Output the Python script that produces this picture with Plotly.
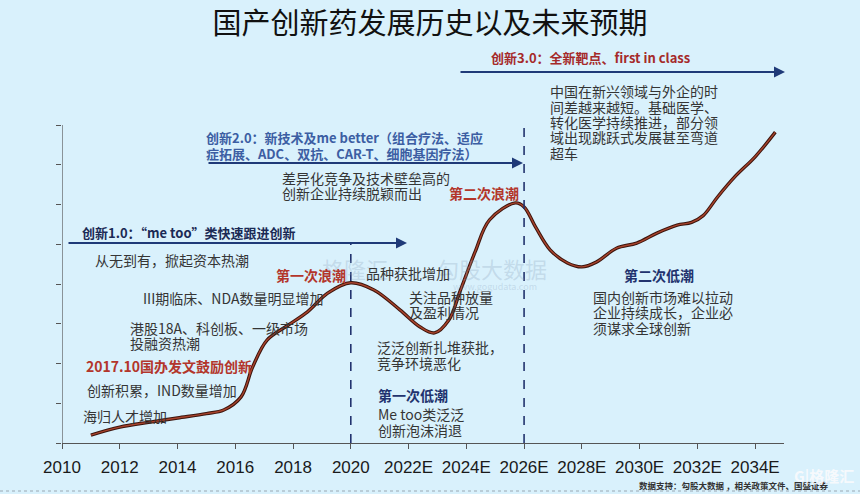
import plotly.graph_objects as go

# ---------------- data ----------------
years = [2011.0, 2012.0, 2013.0, 2014.0, 2015.0, 2015.6, 2016.2, 2016.6, 2017.1, 2017.8,
         2018.5, 2019.2, 2020.0, 2020.8, 2021.7, 2022.4, 2022.9, 2023.4, 2023.8, 2024.3,
         2024.8, 2025.7, 2026.0, 2026.4, 2026.9, 2027.5, 2028.0, 2028.5, 2029.2, 2029.9,
         2030.6, 2031.3, 2031.8, 2032.2, 2032.7, 2033.3, 2034.0, 2034.7]
index_values = [0.20, 0.40, 0.52, 0.63, 0.74, 0.83, 1.16, 1.91, 2.59, 2.95,
                3.30, 3.77, 4.03, 3.85, 3.35, 2.92, 2.77, 3.10, 3.85, 4.80,
                5.61, 6.04, 5.94, 5.43, 4.86, 4.53, 4.43, 4.55, 4.90, 5.03,
                5.28, 5.48, 5.55, 5.72, 6.19, 6.70, 7.20, 7.82]
tick_years = [2010, 2012, 2014, 2016, 2018, 2020, 2022, 2024, 2026, 2028, 2030, 2032, 2034]
tick_labels = ["2010", "2012", "2014", "2016", "2018", "2020", "2022E", "2024E",
               "2026E", "2028E", "2030E", "2032E", "2034E"]
y_ticks = [0, 1, 2, 3, 4, 5, 6, 7, 8]

# ---------------- layout geometry ----------------
W, H = 860, 494
L, R, T, B = 62, 76, 50, 51
X0, X1 = 2010, 2035
PW, PH = W - L - R, H - T - B
PX_PER_YEAR = PW / (X1 - X0)
PX_PER_UNIT = 39.75
Y1 = PH / PX_PER_UNIT


def at(px, py):
    """Convert a pixel position of the page into data coordinates."""
    return X0 + (px - L) / PX_PER_YEAR, (H - B - py) / PX_PER_UNIT


def paper(px, py):
    """Convert a pixel position of the page into paper (plot-area) coordinates."""
    return (px - L) / PW, (H - B - py) / PH


BG = "#d9f1fc"
FONT = "Noto Sans CJK SC"
TXT = "#353535"
RED = "#b3362b"
NAVY = "#22336e"
BLUE = "#3c5ea3"
ARROW = "#1f3a78"

fig = go.Figure()
fig.add_trace(go.Scatter(x=years, y=index_values, mode="lines", line_shape="spline",
                         line=dict(color="#3b140c", width=3.4), hoverinfo="skip",
                         showlegend=False))
fig.add_trace(go.Scatter(x=years, y=index_values, mode="lines", line_shape="spline",
                         line=dict(color="#a8432c", width=1.4), hoverinfo="skip",
                         showlegend=False))

annotations = []


def text(s, px, py, color=TXT, bold=False, size=14, anchor="left", family=FONT):
    x, y = paper(px, py)
    annotations.append(dict(x=x, y=y, xref="paper", yref="paper",
                            text=(f"<b>{s}</b>" if bold else s),
                            showarrow=False, xanchor=anchor, yanchor="middle",
                            font=dict(family=family, size=size, color=color)))


def arrow(px0, px1, py):
    x0, y = at(px0, py)
    x1, _ = at(px1, py)
    annotations.append(dict(x=x1, y=y, ax=x0, ay=y, xref="x", yref="y", axref="x", ayref="y",
                            text="", showarrow=True, arrowhead=2, arrowsize=1.1,
                            arrowwidth=2, arrowcolor=ARROW))


# arrows of the three innovation stages
arrow(67, 407, 243)
arrow(207, 523, 163)
arrow(459, 785, 72)

# dashed separators
shapes = []
for yr, top in [(2020, 243), (2026, 126)]:
    _, ytop = at(0, top)
    shapes.append(dict(type="line", x0=yr, x1=yr, y0=0, y1=ytop, xref="x", yref="y",
                       line=dict(color=NAVY, width=1.6, dash="dash")))
# left axis line (only up to the top tick)
shapes.append(dict(type="line", x0=X0, x1=X0, y0=0, y1=8, xref="x", yref="y",
                   line=dict(color="#555555", width=1.2)))
# dotted line at the foot of the page
fx0, fy = paper(0, 491)
fx1, _ = paper(W, 491)
shapes.append(dict(type="line", x0=fx0, x1=fx1, y0=fy, y1=fy, xref="paper", yref="paper",
                   line=dict(color="#9aa8b3", width=1, dash="dot")))

# watermark (drawn first so it stays behind)
WM = "rgba(140,165,190,0.30)"
text("格隆汇", 355, 268, color=WM, size=22, anchor="center")
text("勾股大数据", 492, 268, color=WM, size=22, anchor="center")
text("www.gogudata.com", 495, 286, color=WM, size=9, anchor="center")

# stage 1
text("创新1.0：“me too”类快速跟进创新", 80, 232, color="#1b2a55", bold=True, size=13)
text("从无到有，掀起资本热潮", 93, 260)
text("第一次浪潮", 274, 275, color=RED, bold=True)
text("III期临床、NDA数量明显增加", 141, 298)
text("港股18A、科创板、一级市场", 128, 328)
text("投融资热潮", 128, 343)
text("2017.10国办发文鼓励创新", 84, 366, color=RED, bold=True)
text("创新积累，IND数量增加", 85, 390)
text("海归人才增加", 81, 416)
# first low tide
text("品种获批增加", 364, 273)
text("关注品种放量", 407, 297)
text("及盈利情况", 407, 312)
text("泛泛创新扎堆获批，", 375, 347)
text("竞争环境恶化", 375, 363)
text("第一次低潮", 376, 395, color=NAVY, bold=True)
text("Me too类泛泛", 376, 414)
text("创新泡沫消退", 376, 430)
# stage 2
text("创新2.0：新技术及me better（组合疗法、适应", 204, 137, color=BLUE, bold=True, size=13)
text("症拓展、ADC、双抗、CAR-T、细胞基因疗法）", 204, 153, color=BLUE, bold=True, size=13)
text("差异化竞争及技术壁垒高的", 280, 178)
text("创新企业持续脱颖而出", 280, 193)
text("第二次浪潮", 447, 193, color=RED, bold=True)
# stage 3
text("创新3.0：全新靶点、first in class", 489, 58, color="#a52a2a", bold=True, size=13)
text("中国在新兴领域与外企的时", 548, 91)
text("间差越来越短。基础医学、", 548, 107)
text("转化医学持续推进，部分领", 548, 122)
text("域出现跳跃式发展甚至弯道", 548, 137)
text("超车", 548, 153)
text("第二次低潮", 622, 275, color=NAVY, bold=True)
text("国内创新市场难以拉动", 591, 297)
text("企业持续成长，企业必", 591, 312)
text("须谋求全球创新", 591, 328)

# footer
text("<b>数据支持：勾股大数据 ，相关政策文件、国盛证券</b>", 830, 485, color="#333333",
     size=8.5, anchor="right")
text("<b>G|格隆汇</b>", 856, 476, color="rgba(248,250,252,0.95)", size=15, anchor="right")

fig.update_layout(
    width=W, height=H,
    margin=dict(l=L, r=R, t=T, b=B, autoexpand=False),
    paper_bgcolor=BG, plot_bgcolor=BG,
    title=dict(text="国产创新药发展历史以及未来预期", x=0.5, xanchor="center",
               y=1 - 24 / H, yanchor="middle", yref="container",
               font=dict(family=FONT, size=29, color="#111111")),
    xaxis=dict(range=[X0, X1], tickvals=tick_years, ticktext=tick_labels,
               showgrid=False, zeroline=False, showline=True, linecolor="#555555",
               linewidth=1.2, ticks="outside", ticklen=5, tickcolor="#555555",
               tickangle=0, automargin=False, ticklabelstandoff=3,
               tickfont=dict(family="Liberation Sans Narrow, Arial Narrow, Liberation Sans",
                             size=17, color="#1a1a1a")),
    yaxis=dict(range=[0, Y1], tickvals=y_ticks, showticklabels=False, showgrid=False,
               zeroline=False, showline=False, ticks="outside", ticklen=5,
               tickcolor="#555555", automargin=False),
    shapes=shapes, annotations=annotations, showlegend=False,
)

fig.write_html("out.html", config={"displayModeBar": False},
               post_script="document.body.style.margin='0';document.body.style.overflow='hidden';")
